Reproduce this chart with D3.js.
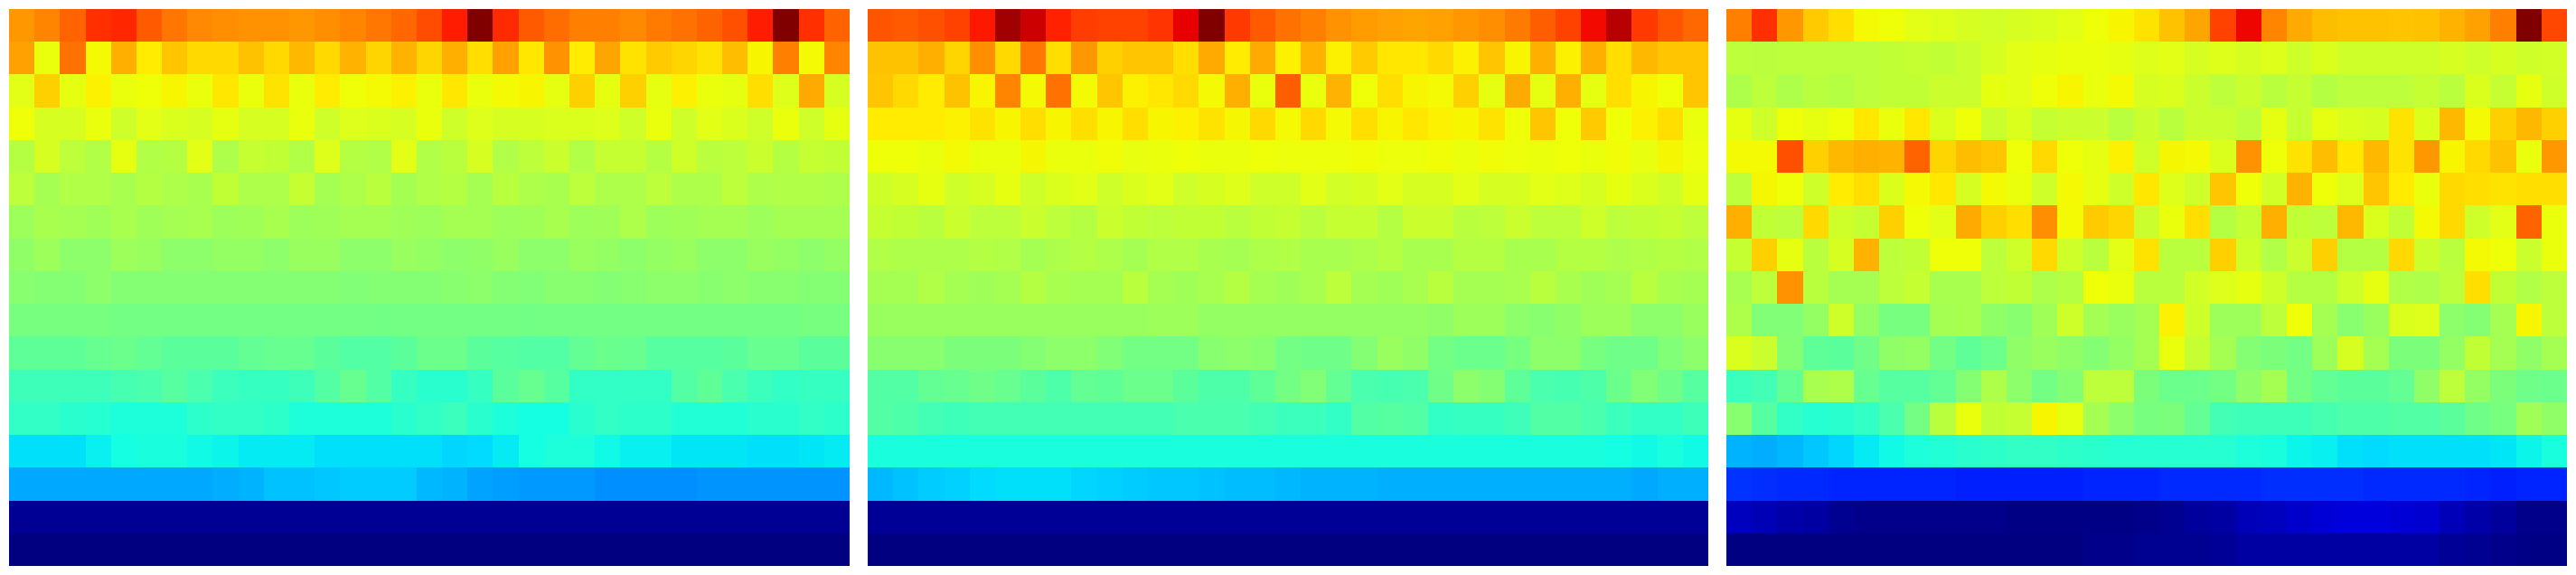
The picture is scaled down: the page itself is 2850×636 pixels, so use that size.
<!DOCTYPE html>
<html>
<head>
<meta charset="utf-8">
<script src="https://cdn.jsdelivr.net/npm/d3@7"></script>
<style>
html,body{margin:0;padding:0;background:#fff;overflow:hidden}
svg{display:block}
</style>
</head>
<body>
<svg id="chart" width="2850" height="636"></svg>
<script>
// Cell intensity, in thousandths of the colour range.
const panelA = [
[750,770,804,860,870,815,785,765,760,755,755,750,760,770,785,800,830,880,1000,865,815,795,775,775,765,780,790,805,825,880,1000,860,805],
[740,635,790,645,725,660,700,680,680,705,680,715,680,720,685,720,685,725,675,740,665,755,660,735,670,695,685,670,710,650,775,645,770],
[625,690,630,655,635,640,650,635,665,635,670,635,660,640,645,655,635,665,635,645,650,630,690,630,690,630,655,635,630,675,620,730,610],
[640,610,610,635,600,625,615,610,630,610,610,635,600,620,615,610,635,600,620,610,610,615,615,620,600,635,600,625,615,600,635,600,630],
[570,610,580,565,630,565,570,625,560,590,585,565,620,570,565,625,565,575,610,565,580,595,565,590,590,570,600,575,580,595,570,590,585],
[580,550,565,565,555,570,560,555,585,560,560,590,550,560,575,550,565,570,550,575,560,555,580,560,560,580,560,560,580,560,565,565,560],
[540,555,550,545,555,545,550,555,540,545,555,540,545,550,550,545,540,550,550,540,545,555,540,545,560,540,545,550,550,540,550,550,550],
[525,540,520,520,540,535,520,520,530,530,520,535,535,520,520,535,530,520,525,535,520,520,535,530,520,530,535,520,520,535,530,520,530],
[515,510,510,520,510,510,510,510,510,510,510,510,510,505,510,510,510,515,520,510,505,515,515,510,515,520,520,515,520,515,515,510,510],
[495,495,495,495,490,490,490,490,490,490,490,490,490,490,488,490,490,490,490,490,488,490,490,490,490,490,490,490,490,490,490,495,495],
[465,465,465,475,480,470,460,460,460,470,475,475,460,450,450,460,480,480,460,455,450,450,470,480,475,455,455,455,460,475,475,460,460],
[425,425,425,425,435,440,455,440,420,415,415,425,450,475,450,415,400,400,415,460,475,455,410,410,410,410,450,465,440,420,410,415,415],
[410,410,400,395,385,385,385,405,410,410,405,385,385,385,385,400,410,420,400,385,375,375,400,410,405,405,390,390,390,400,400,410,405],
[345,345,345,360,375,380,380,370,365,355,355,355,345,345,345,345,345,335,340,355,375,385,385,370,360,360,350,350,350,345,345,350,355],
[290,290,290,290,290,290,290,290,295,300,315,315,320,325,325,325,305,300,285,280,275,275,275,265,265,265,265,270,270,270,270,270,270],
[18,18,18,18,18,18,18,18,18,18,18,18,18,18,18,18,18,18,18,18,18,18,18,18,18,18,18,18,18,18,18,18,18],
[0,0,0,0,0,0,0,0,0,0,0,0,0,0,0,0,0,0,0,0,0,0,0,0,0,0,0,0,0,0,0,0,0]
];
const panelB = [
[820,815,825,840,885,972,934,875,845,840,840,855,910,1000,850,815,790,775,755,745,740,735,740,750,760,780,810,840,900,950,850,820,800],
[705,705,725,685,760,680,785,675,750,690,700,700,675,730,660,730,655,720,655,695,665,665,680,655,700,650,725,655,725,675,715,700,700],
[700,680,660,705,650,770,645,790,645,700,655,665,680,645,725,635,810,635,720,640,675,650,645,690,630,730,630,725,630,675,650,640,700],
[660,660,660,655,670,650,675,650,675,650,675,650,655,670,648,680,645,680,645,675,650,665,655,650,670,640,700,640,695,640,655,675,635],
[640,640,635,645,635,635,648,635,635,642,632,635,640,635,635,640,638,638,638,642,638,638,642,635,642,638,635,640,635,642,632,648,638],
[600,610,630,600,610,630,600,615,625,600,615,625,600,610,620,600,600,625,605,610,625,610,610,625,610,610,625,620,610,630,615,600,630],
[590,585,575,595,580,580,595,580,570,595,585,580,585,585,575,585,590,575,590,590,570,595,595,575,580,595,580,580,600,580,585,590,580],
[565,560,560,560,570,565,550,560,570,560,550,565,565,555,550,560,565,555,555,560,570,555,555,570,570,555,555,570,570,560,565,570,565],
[550,550,565,550,545,550,570,555,550,550,575,550,545,555,570,550,545,555,580,550,545,555,575,550,550,555,575,555,545,550,575,555,550],
[535,535,535,535,535,535,535,535,535,535,535,540,540,530,530,530,530,530,530,530,530,530,525,540,540,520,515,525,540,540,520,520,535],
[515,515,515,500,500,500,510,520,520,505,490,490,490,515,520,515,490,485,485,510,535,525,490,480,480,495,520,520,495,485,485,505,520],
[450,450,470,475,485,475,460,445,470,465,480,480,460,445,445,465,490,505,470,440,435,440,485,520,510,465,440,435,445,480,505,485,455],
[450,445,430,425,430,430,430,430,430,430,430,430,440,440,440,430,420,420,410,450,455,450,410,415,415,425,450,450,440,420,410,410,425],
[380,380,380,380,380,380,380,380,380,380,380,380,380,380,380,380,380,380,380,380,380,380,380,380,380,380,380,380,380,375,370,380,370],
[305,315,325,330,340,345,345,345,335,330,325,320,320,315,310,310,305,300,300,300,298,298,298,298,298,298,298,298,298,298,290,298,298],
[20,20,20,20,20,20,20,20,20,20,20,20,20,20,20,20,20,20,20,20,20,20,20,20,20,20,20,20,20,20,20,20,20],
[0,0,0,0,0,0,0,0,0,0,0,0,0,0,0,0,0,0,0,0,0,0,0,0,0,0,0,0,0,0,0,0,0]
];
const panelC = [
[775,860,750,695,675,645,640,625,620,610,605,610,615,625,640,650,670,705,735,840,905,770,730,710,705,705,700,705,720,740,775,1000,835],
[580,575,580,580,580,580,585,590,585,595,610,625,630,635,635,630,620,625,610,620,610,620,600,615,600,600,600,600,610,600,610,600,605],
[560,580,560,575,570,580,585,585,595,595,630,625,640,650,635,645,610,615,595,580,595,575,590,570,580,580,580,590,575,615,590,630,600],
[630,600,640,630,640,665,635,665,615,640,595,615,590,595,595,575,595,575,595,595,580,630,590,630,615,610,670,615,715,645,690,715,690],
[645,645,825,690,715,725,720,805,685,710,700,640,680,640,630,655,600,648,645,615,755,640,670,710,665,715,670,750,650,680,705,635,750],
[580,648,640,600,660,675,615,645,665,610,645,635,600,645,630,600,665,620,600,700,640,605,720,640,620,700,660,635,680,675,670,675,675],
[725,585,580,680,600,590,690,640,625,730,690,675,760,645,695,685,595,635,675,570,590,725,585,580,715,615,585,645,680,600,625,805,635],
[590,690,630,575,610,720,580,585,640,640,580,600,680,600,575,625,670,575,575,690,600,565,595,690,570,570,680,595,575,645,640,595,635],
[555,580,755,575,550,550,580,590,555,555,580,585,560,570,640,635,575,575,605,620,630,600,570,570,600,630,565,560,580,675,585,565,580],
[560,505,505,530,600,530,495,495,550,555,525,515,545,600,550,535,550,655,600,540,540,580,640,550,515,535,615,620,520,510,550,650,580],
[615,595,510,465,460,485,525,530,490,465,480,525,535,525,510,530,550,635,590,550,510,500,490,540,610,550,500,500,530,585,550,525,550],
[420,430,470,555,560,475,455,455,470,510,560,520,490,510,580,580,500,480,480,490,525,550,490,470,460,460,470,525,580,530,500,485,480],
[515,455,410,395,400,410,440,490,575,635,585,590,650,630,550,520,495,500,470,430,425,425,425,435,445,445,450,450,460,485,495,545,525],
[300,295,305,320,335,355,370,385,390,400,405,410,410,405,400,395,395,395,395,395,385,380,365,360,345,340,345,345,345,345,350,365,380],
[175,170,165,165,160,160,160,160,160,155,155,155,155,155,160,160,160,165,165,165,165,170,170,170,170,165,165,165,165,160,155,160,160],
[55,45,35,30,15,10,10,10,10,10,10,5,5,5,5,5,10,15,25,30,50,55,65,75,80,80,75,70,50,35,25,10,10],
[2,0,0,0,0,0,0,0,0,0,0,0,0,0,10,10,15,15,15,20,30,30,30,30,30,30,30,30,20,15,10,5,5]
];
const panels = [panelA, panelB, panelC];
const columns = d3.range(33);
const rows = d3.range(17);

// Colour map stops (jet)
const redC = d3.scaleLinear().domain([0,350,660,890,1000]).range([0,0,1,1,0.5]).clamp(true);
const greenC = d3.scaleLinear().domain([0,125,375,640,910,1000]).range([0,0,1,1,0,0]).clamp(true);
const blueC = d3.scaleLinear().domain([0,110,340,650,1000]).range([0.5,1,1,0,0]).clamp(true);
const jet = v => d3.rgb(redC(v)*255, greenC(v)*255, blueC(v)*255).formatRgb();

const W = 2850, H = 636, margin = 10, gap = 20;
const panelWidth = (W - 2*margin - 2*gap) / 3;
const panelX = d3.scaleBand().domain(d3.range(panels.length)).range([margin, W - margin + gap]).padding(0);
const y = d3.scaleBand().domain(rows).range([margin, H - margin]);

const svg = d3.select('#chart');
const g = svg.selectAll('g.panel').data(panels).join('g')
  .attr('class','panel')
  .attr('transform',(d,i)=>`translate(${panelX(i)},0)`);

const x = d3.scaleBand().domain(columns).range([0, panelWidth]);

g.each(function(matrix){
  d3.select(this).selectAll('g.row').data(matrix).join('g')
    .attr('class','row')
    .each(function(vals, r){
      d3.select(this).selectAll('rect').data(vals).join('rect')
        .attr('x',(d,c)=>x(c))
        .attr('y',y(r))
        .attr('width',x.bandwidth())
        .attr('height',y.bandwidth())
        .attr('fill',d=>jet(d))
        .attr('shape-rendering','crispEdges');
    });
});
</script>
</body>
</html>
